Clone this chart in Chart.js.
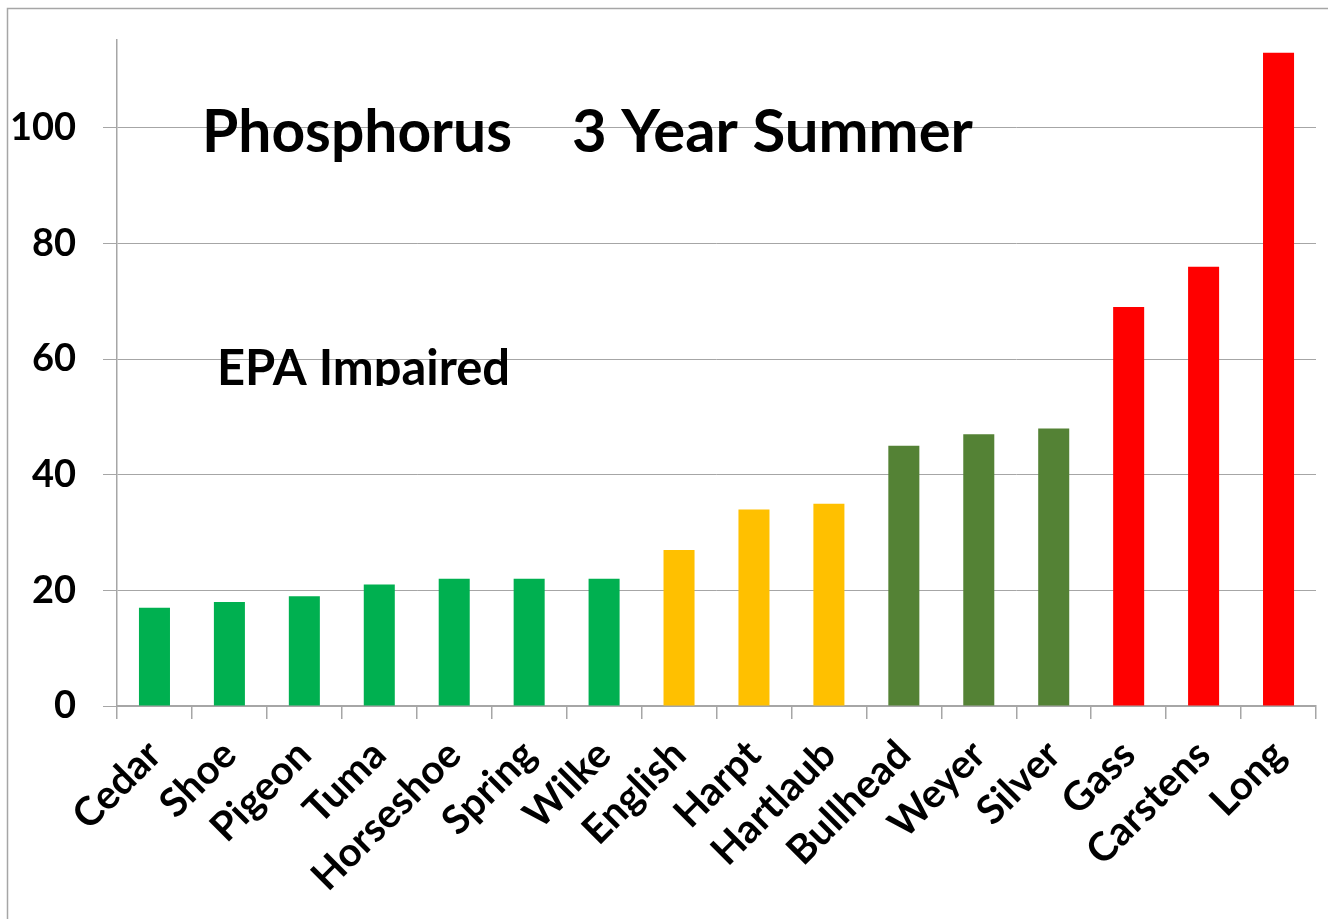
<!DOCTYPE html>
<html>
<head>
<meta charset="utf-8">
<script src="https://cdn.jsdelivr.net/npm/chart.js@4.4.1/dist/chart.umd.min.js"></script>
<style>
  html, body { margin: 0; padding: 0; background: #ffffff; }
  #wrap { width: 1328px; height: 919px; position: relative; }
  canvas { display: block; }
</style>
</head>
<body>
<div id="wrap"><canvas id="c" width="1328" height="919"></canvas></div>
<script>
// ---- data ----
const categories = ["Cedar","Shoe","Pigeon","Tuma","Horseshoe","Spring","Wilke","English","Harpt","Hartlaub","Bullhead","Weyer","Silver","Gass","Carstens","Long"];
const phosphorus = [17, 18, 19, 21, 22, 22, 22, 27, 34, 35, 45, 47, 48, 69, 76, 113];
const groups = ["low","low","low","low","low","low","low","mid","mid","mid","high","high","high","impaired","impaired","impaired"];
const yTicks = [0, 20, 40, 60, 80, 100];
const titleParts = ["Phosphorus", "3 Year Summer"];
const noteText = "EPA Impaired";

// ---- styles ----
const groupColors = { low: "#00B050", mid: "#FFC000", high: "#548235", impaired: "#FF0000" };
const FONT = "Lato, 'Open Sans', sans-serif";
const GRID = "#A6A6A6";

const overlay = {
  id: "overlay",
  beforeDraw(chart) {
    const ctx = chart.ctx;
    ctx.save();
    ctx.fillStyle = "#ffffff";
    ctx.fillRect(0, 0, chart.width, chart.height);
    ctx.strokeStyle = GRID;
    ctx.lineWidth = 1.5;
    ctx.beginPath();
    ctx.moveTo(7.5, chart.height + 5);
    ctx.lineTo(7.5, 8.5);
    ctx.lineTo(chart.width + 5, 8.5);
    ctx.stroke();
    ctx.restore();
  },
  afterDraw(chart) {
    const ctx = chart.ctx;
    ctx.save();
    ctx.fillStyle = "#000000";
    ctx.textBaseline = "alphabetic";
    ctx.textAlign = "left";
    function fitText(txt, x, y, w, size) {
      ctx.font = "bold " + size + "px " + FONT;
      const m = ctx.measureText(txt).width;
      const s = size * w / m;
      ctx.font = "bold " + s.toFixed(2) + "px " + FONT;
      ctx.fillText(txt, x, y);
    }
    fitText(titleParts[0], 202, 152, 310, 56);
    fitText(titleParts[1], 572, 152, 401, 56);
    ctx.beginPath();
    ctx.rect(150, 320, 420, 66);
    ctx.clip();
    fitText(noteText, 217, 385, 293, 52);
    ctx.restore();
  }
};

new Chart(document.getElementById("c"), {
  type: "bar",
  data: {
    labels: categories,
    datasets: [{
      data: phosphorus,
      backgroundColor: groups.map(g => groupColors[g]),
      borderWidth: 0,
      barPercentage: 0.414,
      categoryPercentage: 1.0
    }]
  },
  options: {
    responsive: false,
    devicePixelRatio: 1,
    animation: false,
    layout: { padding: { top: 40, right: 12, left: 0, bottom: 0 } },
    plugins: {
      legend: { display: false },
      title: { display: false },
      tooltip: { enabled: false }
    },
    scales: {
      y: {
        min: 0,
        max: 115.2,
        afterBuildTicks(scale) {
          scale.ticks = yTicks.map(v => ({ value: v }));
        },
        afterFit(scale) {
          scale.width = 117;
          scale.paddingTop = 0;
          scale.paddingBottom = 0;
        },
        ticks: {
          color: "#000000",
          padding: 27,
          font: { family: FONT, size: 38, weight: "bold" }
        },
        grid: { color: GRID, lineWidth: 1, tickLength: 14, drawTicks: true },
        border: { color: GRID, width: 1.5 }
      },
      x: {
        afterFit(scale) { scale.height = 213; },
        ticks: {
          color: "#000000",
          maxRotation: 45,
          minRotation: 45,
          autoSkip: false,
          padding: 12,
          font: { family: FONT, size: 40, weight: "bold" }
        },
        grid: { color: GRID, drawOnChartArea: false, drawTicks: true, tickLength: 13, offset: true, lineWidth: 1.5 },
        border: { color: GRID, width: 2 }
      }
    }
  },
  plugins: [overlay]
});
</script>
</body>
</html>
